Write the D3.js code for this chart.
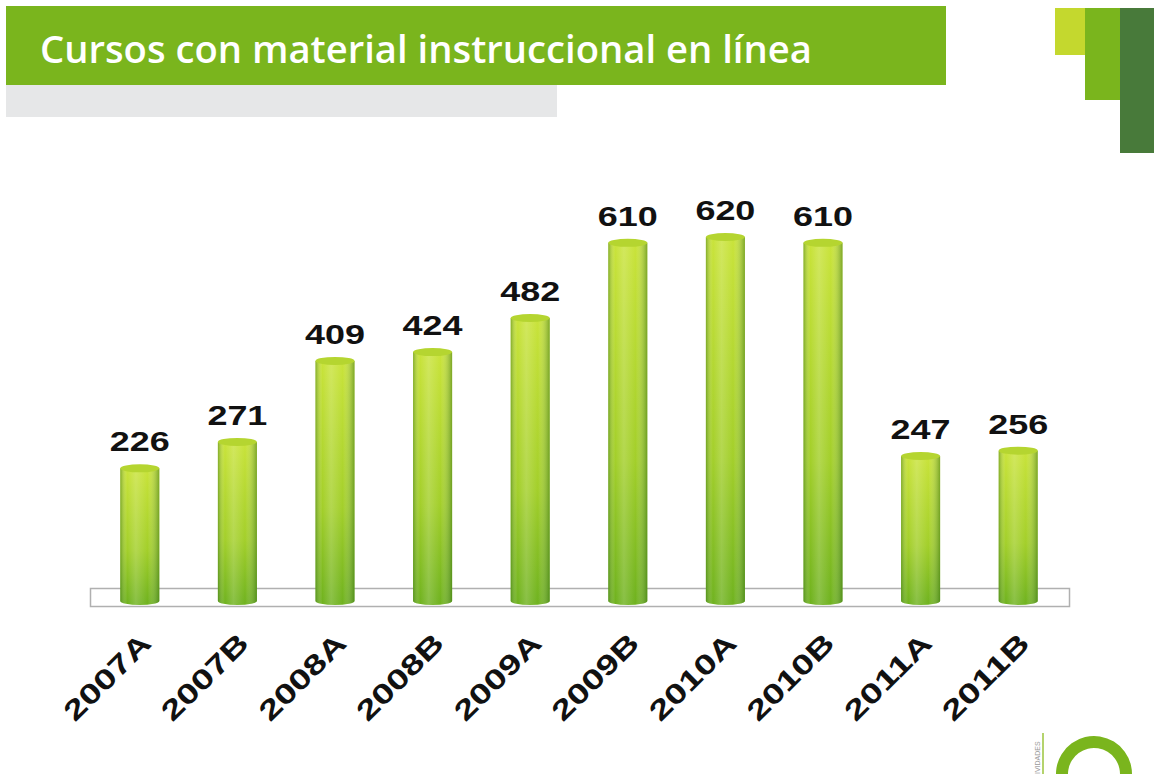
<!DOCTYPE html>
<html><head><meta charset="utf-8">
<script src="https://cdn.jsdelivr.net/npm/d3@7"></script>
<style>body{margin:0;background:#fff}svg{display:block}</style>
</head><body>
<script>
const categories = ["2007A","2007B","2008A","2008B","2009A","2009B","2010A","2010B","2011A","2011B"];
const values = [226,271,409,424,482,610,620,610,247,256];
const title = "Cursos con material instruccional en línea";

const W = 1154, H = 774;
const svg = d3.select("body").append("svg").attr("width", W).attr("height", H);
const defs = svg.append("defs");

const vg = defs.append("linearGradient").attr("id","vg").attr("x1",0).attr("y1",0).attr("x2",0).attr("y2",1);
vg.append("stop").attr("offset","0%").attr("stop-color","#c9e33a");
vg.append("stop").attr("offset","60%").attr("stop-color","#a3cf2a");
vg.append("stop").attr("offset","100%").attr("stop-color","#6fb21f");
const hg = defs.append("linearGradient").attr("id","hg").attr("x1",0).attr("y1",0).attr("x2",1).attr("y2",0);
hg.append("stop").attr("offset","0%").attr("stop-color","#2f6a10").attr("stop-opacity",0.45);
hg.append("stop").attr("offset","18%").attr("stop-color","#ffffff").attr("stop-opacity",0.0);
hg.append("stop").attr("offset","40%").attr("stop-color","#ffffff").attr("stop-opacity",0.18);
hg.append("stop").attr("offset","70%").attr("stop-color","#ffffff").attr("stop-opacity",0.0);
hg.append("stop").attr("offset","100%").attr("stop-color","#2f6a10").attr("stop-opacity",0.5);

// header
svg.append("rect").attr("x",6).attr("y",6).attr("width",940).attr("height",79).attr("fill","#7ab51d");
svg.append("rect").attr("x",6).attr("y",85).attr("width",551).attr("height",32).attr("fill","#e6e7e8");
svg.append("text").attr("x",40).attr("y",63).attr("fill","#fff")
  .attr("font-family","'Open Sans', 'DejaVu Sans', sans-serif").attr("font-size",38).attr("font-weight",600)
  .attr("textLength",772).attr("lengthAdjust","spacingAndGlyphs").text(title);
svg.append("rect").attr("x",1055).attr("y",8).attr("width",31).attr("height",47).attr("fill","#c4d82e");
svg.append("rect").attr("x",1085).attr("y",8).attr("width",36).attr("height",92).attr("fill","#7ab51d");
svg.append("rect").attr("x",1120).attr("y",8).attr("width",34).attr("height",145).attr("fill","#487a3a");

const x = d3.scaleBand().domain(categories).range([91,1067]).paddingInner(0.6).paddingOuter(0.3);
const y = d3.scaleLinear().domain([0,620]).range([601,237]);

svg.append("rect").attr("x",90.5).attr("y",588.5).attr("width",979).attr("height",18)
  .attr("fill","#fff").attr("stroke","#b0b0b0").attr("stroke-width",1.5);

const bw = x.bandwidth();
const ry = 4;
const g = svg.append("g").selectAll("g").data(categories).join("g");
const body = (d,i)=>{
  const x0 = x(d), x1 = x0+bw, top = y(values[i]), bot = y(0);
  return `M${x0},${top} L${x0},${bot} A${bw/2},${ry} 0 0 0 ${x1},${bot} L${x1},${top} Z`;
};
g.append("path").attr("d",body).attr("fill","url(#vg)");
g.append("path").attr("d",body).attr("fill","url(#hg)");
g.append("ellipse").attr("cx",d=>x(d)+bw/2).attr("cy",(d,i)=>y(values[i]))
  .attr("rx",bw/2).attr("ry",ry).attr("fill","#b5d530");

g.append("text").attr("x",d=>x(d)+bw/2).attr("y",(d,i)=>y(values[i])-17)
  .attr("text-anchor","middle").attr("font-family","'Liberation Sans', Arial, sans-serif")
  .attr("font-weight","bold").attr("font-size",27).attr("fill","#111")
  .attr("textLength",60).attr("lengthAdjust","spacingAndGlyphs").text((d,i)=>values[i]);

// x labels
svg.append("g").selectAll("text").data(categories).join("text")
  .attr("transform",d=>`translate(${x(d)+bw/2+13},645) rotate(-45)`)
  .attr("text-anchor","end").attr("font-family","'Liberation Sans', Arial, sans-serif").attr("font-weight","bold")
  .attr("font-size",28).attr("fill","#111")
  .attr("textLength",110).attr("lengthAdjust","spacingAndGlyphs").text(d=>d);

// logo bottom-right
svg.append("path").attr("d", d3.arc().innerRadius(26).outerRadius(38).startAngle(-Math.PI*0.95).endAngle(Math.PI*0.55)())
  .attr("transform","translate(1094,774)").attr("fill","#7ab51d");
svg.append("line").attr("x1",1043).attr("x2",1043).attr("y1",733).attr("y2",774).attr("stroke","#9bc53d").attr("stroke-width",1.5);
svg.append("text").attr("transform","translate(1040,774) rotate(-90)").attr("font-family","'Liberation Sans', Arial, sans-serif")
  .attr("font-size",7).attr("fill","#999").text("IVIDADES");
</script>
</body></html>
